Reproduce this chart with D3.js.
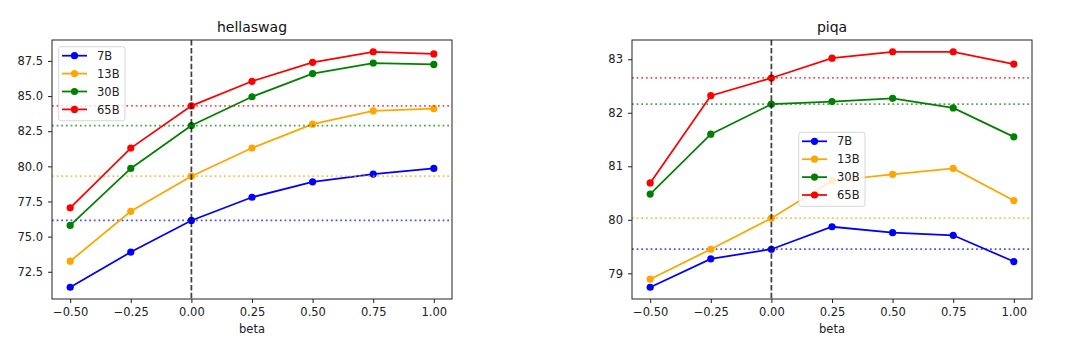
<!DOCTYPE html>
<html>
<head>
<meta charset="utf-8">
<script src="https://cdn.jsdelivr.net/npm/d3@7"></script>
<style>
  html, body { margin: 0; padding: 0; background: #fff; }
  svg { display: block; font-family: "DejaVu Sans", sans-serif; }
</style>
</head>
<body>
<svg id="chart" width="1080" height="346"></svg>
<script>
// ---- data ----
const betas = [-0.5, -0.25, 0, 0.25, 0.5, 0.75, 1.0];
const models = ["7B", "13B", "30B", "65B"];
const modelColors = ["blue", "orange", "green", "red"];

const hellaswag7B  = [71.4, 73.9, 76.15, 77.8, 78.9, 79.45, 79.85];
const hellaswag13B = [73.25, 76.8, 79.3, 81.3, 83.0, 83.95, 84.1];
const hellaswag30B = [75.8, 79.85, 82.9, 84.95, 86.6, 87.35, 87.25];
const hellaswag65B = [77.05, 81.3, 84.3, 86.05, 87.4, 88.15, 88.0];

const piqa7B  = [78.74, 79.27, 79.45, 79.87, 79.76, 79.71, 79.22];
const piqa13B = [78.89, 79.45, 80.03, 80.73, 80.85, 80.96, 80.36];
const piqa30B = [80.48, 81.6, 82.16, 82.21, 82.27, 82.09, 81.55];
const piqa65B = [80.69, 82.32, 82.65, 83.02, 83.14, 83.14, 82.91];

const xTicks = [-0.5, -0.25, 0, 0.25, 0.5, 0.75, 1.0];
const hellaswagYTicks = [72.5, 75.0, 77.5, 80.0, 82.5, 85.0, 87.5];
const piqaYTicks = [79, 80, 81, 82, 83];

const panels = [
  { title: "hellaswag", series: [hellaswag7B, hellaswag13B, hellaswag30B, hellaswag65B],
    yTicks: hellaswagYTicks, yFmt: d3.format(".1f") },
  { title: "piqa", series: [piqa7B, piqa13B, piqa30B, piqa65B],
    yTicks: piqaYTicks, yFmt: d3.format("d") }
];

// ---- layout ----
const layouts = [
  { x: 52, y: 40, w: 400, h: 259, legend: { dx: 6.7, dy: 6.7 } },
  { x: 632, y: 40, w: 400, h: 259, legend: { dx: 166.7, dy: 92.3 } }
];
const FONT = 11.5;
const svg = d3.select("#chart");
svg.append("rect").attr("width", 1080).attr("height", 346).attr("fill", "#fff");

panels.forEach((p, pi) => {
  const L = layouts[pi];
  const g = svg.append("g").attr("transform", `translate(${L.x},${L.y})`);

  const xDom = d3.extent(betas);
  const xPad = (xDom[1] - xDom[0]) * 0.05;
  const x = d3.scaleLinear().domain([xDom[0] - xPad, xDom[1] + xPad]).range([0, L.w]);
  const allVals = p.series.flat();
  const yDom = d3.extent(allVals);
  const yPad = (yDom[1] - yDom[0]) * 0.05;
  const y = d3.scaleLinear().domain([yDom[0] - yPad, yDom[1] + yPad]).range([L.h, 0]);

  const clip = "clip" + pi;
  g.append("clipPath").attr("id", clip).append("rect").attr("width", L.w).attr("height", L.h);
  const plot = g.append("g").attr("clip-path", `url(#${clip})`);

  const line = d3.line().x((d, i) => x(betas[i])).y(d => y(d));

  p.series.forEach((vals, si) => {
    const c = modelColors[si];
    plot.append("path").datum(vals).attr("d", line)
      .attr("fill", "none").attr("stroke", c).attr("stroke-width", 1.75);
    plot.selectAll(null).data(vals).enter().append("circle")
      .attr("cx", (d, i) => x(betas[i])).attr("cy", d => y(d)).attr("r", 3.6)
      .attr("fill", c);
    const base = vals[betas.indexOf(0)];
    plot.append("line")
      .attr("x1", 0).attr("x2", L.w).attr("y1", y(base)).attr("y2", y(base))
      .attr("stroke", c).attr("stroke-width", 1.75).attr("stroke-opacity", 0.7)
      .attr("stroke-dasharray", "1.75,2.9");
  });

  // vertical dashed at beta = 0
  plot.append("line")
    .attr("x1", x(0)).attr("x2", x(0)).attr("y1", 0).attr("y2", L.h)
    .attr("stroke", "#000").attr("stroke-opacity", 0.75).attr("stroke-width", 1.75)
    .attr("stroke-dasharray", "5.5,2.4");

  // axes
  const xAxis = g.append("g").attr("transform", `translate(0,${L.h})`)
    .call(d3.axisBottom(x).tickValues(xTicks).tickFormat(d3.format(".2f")).tickSize(4).tickPadding(5));
  const yAxis = g.append("g")
    .call(d3.axisLeft(y).tickValues(p.yTicks).tickFormat(p.yFmt).tickSize(4).tickPadding(5));
  [xAxis, yAxis].forEach(a => {
    a.select(".domain").remove();
    a.selectAll("line").attr("stroke", "#222").attr("stroke-width", 1);
    a.selectAll("text").attr("fill", "#222").style("font-size", FONT + "px")
      .style("font-family", "'DejaVu Sans', sans-serif");
  });

  // frame
  g.append("rect").attr("width", L.w).attr("height", L.h)
    .attr("fill", "none").attr("stroke", "#222").attr("stroke-width", 1);

  // title and x label
  g.append("text").attr("x", L.w / 2).attr("y", -8).attr("text-anchor", "middle")
    .attr("fill", "#111").style("font-size", "14px").text(p.title);
  g.append("text").attr("x", L.w / 2).attr("y", L.h + 34.3).attr("text-anchor", "middle")
    .attr("fill", "#222").style("font-size", FONT + "px").text("beta");

  // legend
  const lg = g.append("g").attr("transform", `translate(${L.legend.dx},${L.legend.dy})`);
  lg.append("rect").attr("width", 66.3).attr("height", 74).attr("rx", 2.5)
    .attr("fill", "#fff").attr("fill-opacity", 0.8)
    .attr("stroke", "#cccccc").attr("stroke-opacity", 0.8).attr("stroke-width", 1);
  models.forEach((m, i) => {
    const cy = 9 + i * 17.9;
    lg.append("line").attr("x1", 3.3).attr("x2", 28.3).attr("y1", cy).attr("y2", cy)
      .attr("stroke", modelColors[i]).attr("stroke-width", 1.75);
    lg.append("circle").attr("cx", 15.8).attr("cy", cy).attr("r", 3.6).attr("fill", modelColors[i]);
    lg.append("text").attr("x", 38.3).attr("y", cy).attr("dy", "0.36em")
      .attr("fill", "#222").style("font-size", FONT + "px").text(m);
  });
});
</script>
</body>
</html>
